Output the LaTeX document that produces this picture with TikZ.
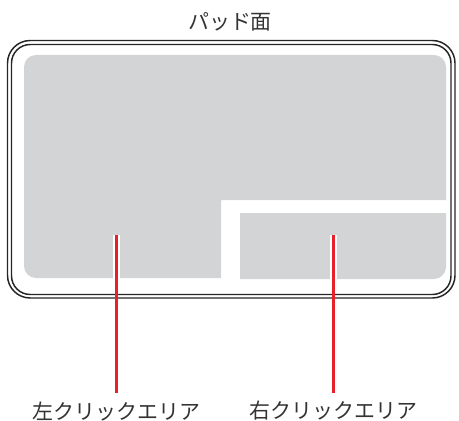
\documentclass[tikz,border=0pt]{standalone}
\usepackage{fontspec}
\newfontfamily\jpfont{Noto Sans CJK JP}
\usepackage{tikz}

\definecolor{padgray}{HTML}{D3D4D6}
\definecolor{leadred}{HTML}{E8202A}
\definecolor{textgray}{HTML}{333333}

\tikzset{
  padline/.style={draw=black!85, line width=1.1pt},
  padlabel/.style={font=\jpfont\fontsize{15.7}{18}\selectfont, text=textgray, inner sep=0pt},
  leader/.style={leadred, line width=2.2pt},
  leaderhalo/.style={white, line width=5.4pt},
}

\begin{document}
\begin{tikzpicture}[x=0.75pt, y=-0.75pt]
	\useasboundingbox (0,0) rectangle (459,420);
	% frame of the pad
	\draw[padline, rounded corners=17pt] (7.5,40.5) rectangle (455,298);
	\draw[padline, rounded corners=14pt] (11.5,44.5) rectangle (451,294.5);
	% touch areas
	\fill[padgray] (24,278) [rounded corners=9pt] -- (24,55) -- (446,55) [sharp corners] -- (446,200) -- (221,200) -- (221,278) [rounded corners=9pt] -- cycle;
	\fill[padgray] (240,213) -- (446,213) [rounded corners=9pt] -- (446,279) [sharp corners] -- (240,279) -- cycle;
	% labels
	\node[padlabel] (pad) at (230,22) {パッド面};
	\node[padlabel] (left) at (116.5,411) {左クリックエリア};
	\node[padlabel] (right) at (333.5,411) {右クリックエリア};
	\coordinate (lefttip) at (116.5,235);
	\coordinate (righttip) at (333.5,235);
	\draw[leaderhalo] (lefttip) -- (116.5,281);
	\draw[leaderhalo] (righttip) -- (333.5,281);
	\draw[leader] ([yshift=6pt]left.north) -- (lefttip);
	\draw[leader] ([yshift=6pt]right.north) -- (righttip);
\end{tikzpicture}
\end{document}
